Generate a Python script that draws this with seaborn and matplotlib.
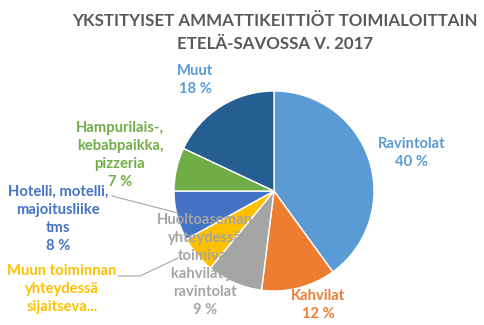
import matplotlib
matplotlib.use("Agg")
import matplotlib.pyplot as plt
import seaborn as sns

sns.set_theme(style="white")
plt.rcParams['font.family'] = ['Lato', 'DejaVu Sans']

# Data
categories = ["Ravintolat", "Kahvilat",
              "Huoltoaseman yhteydessä toimivat kahvilat ja ravintolat",
              "Muun toiminnan yhteydessä sijaitseva...",
              "Hotelli, motelli, majoitusliike tms",
              "Hampurilais-, kebabpaikka, pizzeria", "Muut"]
values = [40, 12, 9, 6, 8, 7, 18]
label_texts = ["Ravintolat\n40 %", "Kahvilat\n12 %",
               "Huoltoaseman\nyhteydessä\ntoimivat\nkahvilat ja\nravintolat\n9 %",
               "Muun toiminnan\nyhteydessä\nsijaitseva...",
               "Hotelli, motelli,\nmajoitusliike\ntms\n8 %",
               "Hampurilais-,\nkebabpaikka,\npizzeria\n7 %", "Muut\n18 %"]
title_lines = ["YKSTITYISET AMMATTIKEITTIÖT TOIMIALOITTAIN", "ETELÄ-SAVOSSA V. 2017"]

colors = ["#5B9BD5", "#ED7D31", "#A5A5A5", "#FFC000", "#4472C4", "#70AD47", "#255E91"]
text_colors = ["#5B9BD5", "#ED7D31", "#A5A5A5", "#FFC000", "#4472C4", "#70AD47", "#5B9BD5"]

W, H = 485, 325
fig = plt.figure(figsize=(W / 100, H / 100), dpi=100)
ax = fig.add_axes([0, 0, 1, 1])

cx, cy, r = 274, H - 191, 100
ax.pie(values, colors=colors, startangle=90, counterclock=False,
       center=(cx, cy), radius=r, frame=True,
       wedgeprops=dict(edgecolor="white", linewidth=1))
ax.set_xlim(0, W)
ax.set_ylim(0, H)
ax.set_aspect('equal')
ax.axis('off')

# label positions in pixels (x, y from top)
label_pos = [(412, 153), (318, 305), (205, 265), (62, 289), (58, 219), (120, 155), (195, 80)]
for txt, (x, y), c in zip(label_texts, label_pos, text_colors):
    ax.text(x, H - y, txt, color=c, ha='center', va='center', fontsize=10.6,
            fontweight='bold', linespacing=1.38, zorder=5)

# leader lines
ax.plot([112, 178], [H - 196, H - 213], color="#A6A6A6", lw=0.8, zorder=4)
ax.plot([118, 140, 178], [H - 276, H - 276, H - 258], color="#A6A6A6", lw=0.8, zorder=4)

ax.text(275, H - 21, title_lines[0], color="#595959", ha='center', va='center',
        fontsize=12.2, fontweight='bold')
ax.text(275, H - 44, title_lines[1], color="#595959", ha='center', va='center',
        fontsize=12.2, fontweight='bold')

fig.savefig("out.png", dpi=100)
